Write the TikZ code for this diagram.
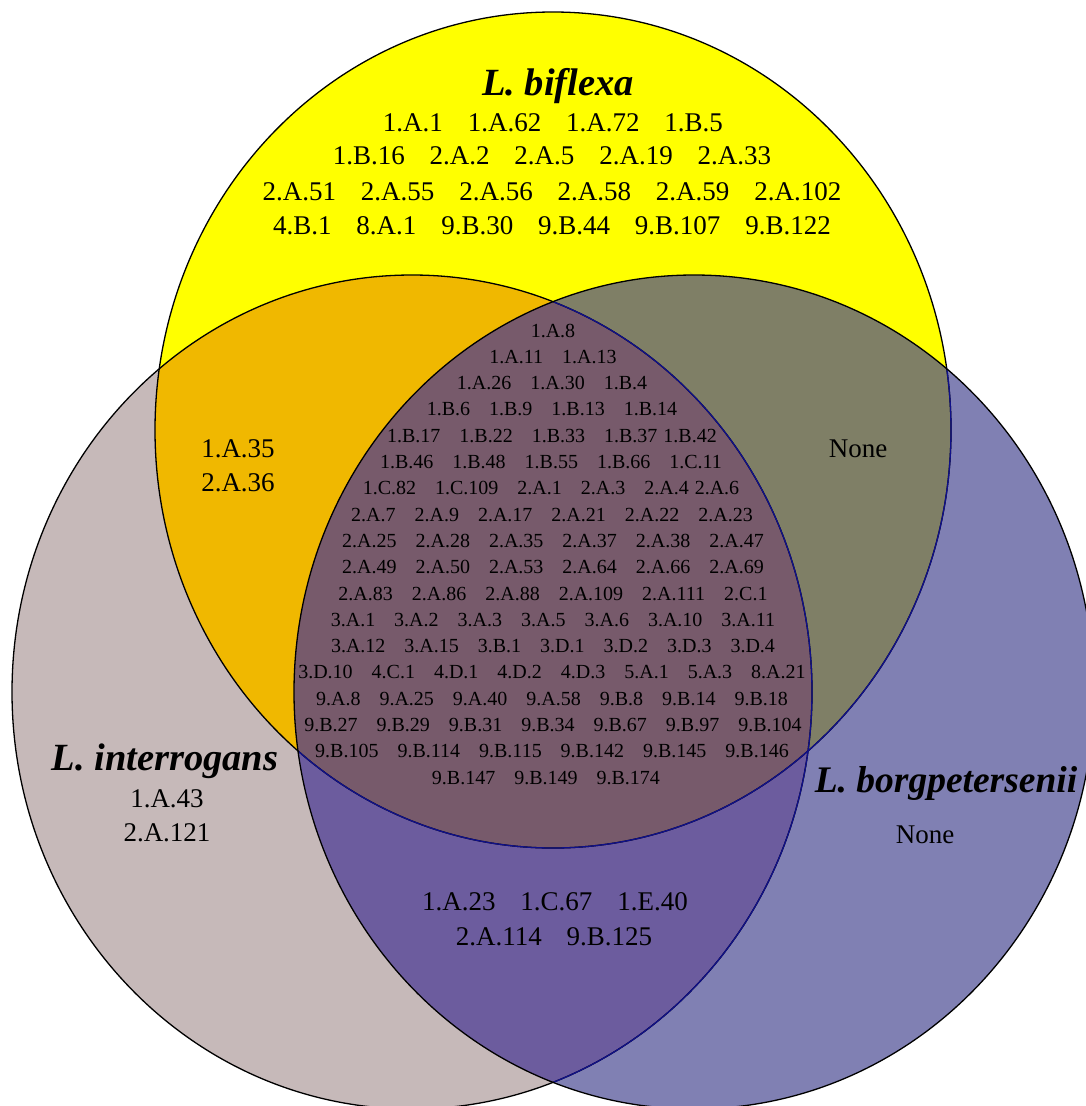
\documentclass[tikz,border=0pt]{standalone}
\usepackage{fontspec}
\setmainfont{Liberation Serif}
\definecolor{cY}{HTML}{FFFF00}
\definecolor{cL}{HTML}{C6B9B9}
\definecolor{cR}{HTML}{8080B3}
\definecolor{cYL}{HTML}{F0B800}
\definecolor{cYR}{HTML}{7F7F66}
\definecolor{cLR}{HTML}{6C5C9E}
\definecolor{cC}{HTML}{775A6B}
\definecolor{navyln}{HTML}{10108A}
\newcommand\wg{\hspace{0.92em}}
\newcommand\wc{\hspace{0.95em}}
\tikzset{
  outl/.style={draw=black, line width=1.3pt},
  innl/.style={draw=navyln, line width=1.3pt},
  big/.style={font=\fontsize{27}{27}\selectfont, inner sep=0pt, anchor=base},
  small/.style={font=\fontsize{20}{20}\selectfont, inner sep=0pt, anchor=base},
  title/.style={font=\fontsize{38.5}{38.5}\selectfont\bfseries\itshape, inner sep=0pt, anchor=base}
}
\begin{document}
\begin{tikzpicture}[x=1pt,y=-1pt]
\useasboundingbox (0,0) rectangle (1086,1106);
\fill[white] (0,0) rectangle (1086,1106);
\begin{scope}
\clip (0,0) rectangle (1086,1106);
% base fills
\fill[cY] (553,430) ellipse [x radius=398pt, y radius=418pt];
\fill[cL] (412,692) ellipse [x radius=400pt, y radius=417pt];
\fill[cR] (694,692) ellipse [x radius=400pt, y radius=417pt];
\begin{scope}
  \clip (553,430) ellipse [x radius=398pt, y radius=418pt];
  \fill[cYL] (412,692) ellipse [x radius=400pt, y radius=417pt];
  \fill[cYR] (694,692) ellipse [x radius=400pt, y radius=417pt];
\end{scope}
\begin{scope}
  \clip (412,692) ellipse [x radius=400pt, y radius=417pt];
  \fill[cLR] (694,692) ellipse [x radius=400pt, y radius=417pt];
  \clip (553,430) ellipse [x radius=398pt, y radius=418pt];
  \fill[cC] (694,692) ellipse [x radius=400pt, y radius=417pt];
\end{scope}
% outlines
\draw[outl] (553,430) ellipse [x radius=398pt, y radius=418pt];
\draw[outl] (412,692) ellipse [x radius=400pt, y radius=417pt];
\draw[outl] (694,692) ellipse [x radius=400pt, y radius=417pt];
\begin{scope}
  \clip (694,692) ellipse [x radius=399pt, y radius=416pt];
  \draw[innl] (553,430) ellipse [x radius=398pt, y radius=418pt];
  \draw[innl] (412,692) ellipse [x radius=400pt, y radius=417pt];
\end{scope}
\end{scope}

% L. biflexa
\node[title] (tB) at (558,95) {L. biflexa};
\node[big] (b1) at (553,131) {1.A.1\wg 1.A.62\wg 1.A.72\wg 1.B.5};
\node[big] (b2) at (552,164) {1.B.16\wg 2.A.2\wg 2.A.5\wg 2.A.19\wg 2.A.33};
\node[big] (b3) at (552,200) {2.A.51\wg 2.A.55\wg 2.A.56\wg 2.A.58\wg 2.A.59\wg 2.A.102};
\node[big] (b4) at (552,234) {4.B.1\wg 8.A.1\wg 9.B.30\wg 9.B.44\wg 9.B.107\wg 9.B.122};

% biflexa & interrogans
\node[big] (yl1) at (238,457) {1.A.35};
\node[big] (yl2) at (238,491) {2.A.36};
% biflexa & borgpetersenii
\node[big] (yr1) at (858,457) {None};

% L. interrogans
\node[title] (tI) at (165,770) {L. interrogans};
\node[big] (i1) at (167,807) {1.A.43};
\node[big] (i2) at (167,841) {2.A.121};

% L. borgpetersenii
\node[title, font=\fontsize{37.5}{37.5}\selectfont\bfseries\itshape] (tR) at (946,792) {L. borgpetersenii};
\node[big] (r1) at (925,843) {None};

% interrogans & borgpetersenii
\node[big] (lr1) at (555,910) {1.A.23\wg 1.C.67\wg 1.E.40};
\node[big] (lr2) at (554,945) {2.A.114\wg 9.B.125};

% centre
\node[small] (c1) at (553,337.0) {1.A.8};
\node[small] (c2) at (553,363.3) {1.A.11\wc 1.A.13};
\node[small] (c3) at (552,389.6) {1.A.26\wc 1.A.30\wc 1.B.4};
\node[small] (c4) at (552,415.9) {1.B.6\wc 1.B.9\wc 1.B.13\wc 1.B.14};
\node[small] (c5) at (552,442.2) {1.B.17\wc 1.B.22\wc 1.B.33\wc 1.B.37\hspace{0.3em}1.B.42};
\node[small] (c6) at (551,468.5) {1.B.46\wc 1.B.48\wc 1.B.55\wc 1.B.66\wc 1.C.11};
\node[small] (c7) at (551,494.8) {1.C.82\wc 1.C.109\wc 2.A.1\wc 2.A.3\wc 2.A.4\hspace{0.3em}2.A.6};
\node[small] (c8) at (552,521.1) {2.A.7\wc 2.A.9\wc 2.A.17\wc 2.A.21\wc 2.A.22\wc 2.A.23};
\node[small] (c9) at (553,547.4) {2.A.25\wc 2.A.28\wc 2.A.35\wc 2.A.37\wc 2.A.38\wc 2.A.47};
\node[small] (c10) at (553,573.7) {2.A.49\wc 2.A.50\wc 2.A.53\wc 2.A.64\wc 2.A.66\wc 2.A.69};
\node[small] (c11) at (553,600.0) {2.A.83\wc 2.A.86\wc 2.A.88\wc 2.A.109\wc 2.A.111\wc 2.C.1};
\node[small] (c12) at (553,626.3) {3.A.1\wc 3.A.2\wc 3.A.3\wc 3.A.5\wc 3.A.6\wc 3.A.10\wc 3.A.11};
\node[small] (c13) at (553,652.6) {3.A.12\wc 3.A.15\wc 3.B.1\wc 3.D.1\wc 3.D.2\wc 3.D.3\wc 3.D.4};
\node[small] (c14) at (552,678.9) {3.D.10\wc 4.C.1\wc 4.D.1\wc 4.D.2\wc 4.D.3\wc 5.A.1\wc 5.A.3\wc 8.A.21};
\node[small] (c15) at (552,705.2) {9.A.8\wc 9.A.25\wc 9.A.40\wc 9.A.58\wc 9.B.8\wc 9.B.14\wc 9.B.18};
\node[small] (c16) at (553,731.5) {9.B.27\wc 9.B.29\wc 9.B.31\wc 9.B.34\wc 9.B.67\wc 9.B.97\wc 9.B.104};
\node[small] (c17) at (552,757.8) {9.B.105\wc 9.B.114\wc 9.B.115\wc 9.B.142\wc 9.B.145\wc 9.B.146};
\node[small] (c18) at (546,784.1) {9.B.147\wc 9.B.149\wc 9.B.174};
\end{tikzpicture}
\end{document}
